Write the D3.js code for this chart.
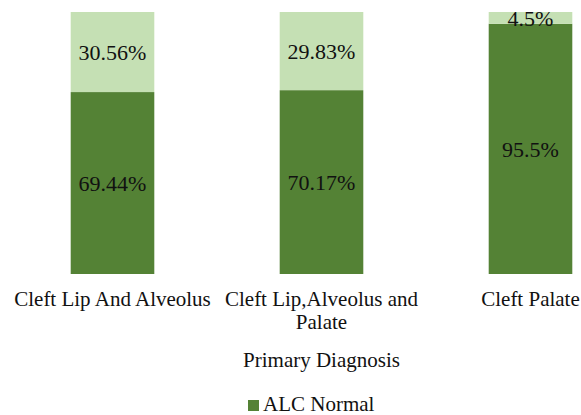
<!DOCTYPE html>
<html>
<head>
<meta charset="utf-8">
<script src="https://cdn.jsdelivr.net/npm/d3@7"></script>
<style>
  html, body { margin: 0; padding: 0; background: #ffffff; }
  svg { display: block; font-family: "Liberation Serif", "Times New Roman", serif; }
</style>
</head>
<body>
<div id="chart"></div>
<script>
// chart data
const categories = ["Cleft Lip And Alveolus", "Cleft Lip,Alveolus and Palate", "Cleft Palate"];
const seriesNames = ["ALC Normal", "ALC Abnormal"];
const normalValues = [69.44, 70.17, 95.5];
const abnormalValues = [30.56, 29.83, 4.5];
const normalLabels = ["69.44%", "70.17%", "95.5%"];
const abnormalLabels = ["30.56%", "29.83%", "4.5%"];
const axisTitle = "Primary Diagnosis";

const width = 581, height = 415;
const darkGreen = "#548235";
const lightGreen = "#c5e0b4";

const svg = d3.select("#chart").append("svg")
    .attr("width", width)
    .attr("height", height);

// scales
const x = d3.scaleBand()
    .domain(categories)
    .range([8, 635])
    .paddingInner(0.6)
    .paddingOuter(0.3);

const y = d3.scaleLinear()
    .domain([0, 100])
    .range([274, 12]);

// build stacked rows
const rows = categories.map((c, i) => ({
    cat: c,
    normal: normalValues[i],
    abnormal: abnormalValues[i],
    normalLabel: normalLabels[i],
    abnormalLabel: abnormalLabels[i]
}));
const stack = d3.stack().keys(["normal", "abnormal"]);
const layers = stack(rows);
const colors = { normal: darkGreen, abnormal: lightGreen };

const barG = svg.append("g").attr("class", "bars");
barG.selectAll("g.layer")
    .data(layers)
    .join("g")
    .attr("class", "layer")
    .attr("fill", d => colors[d.key])
    .selectAll("rect")
    .data(d => d)
    .join("rect")
    .attr("x", d => x(d.data.cat))
    .attr("width", x.bandwidth())
    .attr("y", d => y(d[1]))
    .attr("height", d => y(d[0]) - y(d[1]));

// value labels in the middle of each segment
layers.forEach(layer => {
    svg.append("g").selectAll("text")
        .data(layer)
        .join("text")
        .attr("x", d => x(d.data.cat) + x.bandwidth() / 2)
        .attr("y", d => (y(d[0]) + y(d[1])) / 2)
        .attr("dy", "0.35em")
        .attr("text-anchor", "middle")
        .attr("font-size", 22)
        .attr("fill", "#111")
        .text(d => layer.key === "normal" ? d.data.normalLabel : d.data.abnormalLabel);
});

// category axis
const xAxis = svg.append("g")
    .attr("transform", `translate(0,${y(0)})`)
    .call(d3.axisBottom(x).tickSize(0).tickPadding(0))
    .attr("font-family", null)
    .attr("font-size", null);
xAxis.select(".domain").remove();
xAxis.selectAll("text")
    .attr("font-size", 21)
    .attr("fill", "#111")
    .call(wrap, x.step());

function wrap(sel, w) {
    sel.each(function() {
        const t = d3.select(this);
        const words = t.text().split(/\s+/);
        t.text(null).attr("y", 0).attr("dy", null);
        let line = [];
        let lineNo = 0;
        let tspan = t.append("tspan").attr("x", 0).attr("y", 32);
        words.forEach(word => {
            line.push(word);
            tspan.text(line.join(" "));
            if (tspan.node().getComputedTextLength() > w && line.length > 1) {
                line.pop();
                tspan.text(line.join(" "));
                line = [word];
                lineNo++;
                tspan = t.append("tspan").attr("x", 0).attr("y", 32 + lineNo * 23).text(word);
            }
        });
    });
}

// axis title
svg.append("text")
    .attr("x", (x.range()[0] + x.range()[1]) / 2)
    .attr("y", 367)
    .attr("text-anchor", "middle")
    .attr("font-size", 21)
    .attr("fill", "#111")
    .text(axisTitle);

// legend (only the first series is shown)
const legend = svg.append("g").attr("transform", "translate(248,0)");
legend.append("rect")
    .attr("x", 0)
    .attr("y", 400)
    .attr("width", 11)
    .attr("height", 11)
    .attr("fill", darkGreen);
legend.append("text")
    .attr("x", 15)
    .attr("y", 411)
    .attr("font-size", 21)
    .attr("fill", "#111")
    .text(seriesNames[0]);
</script>
</body>
</html>
